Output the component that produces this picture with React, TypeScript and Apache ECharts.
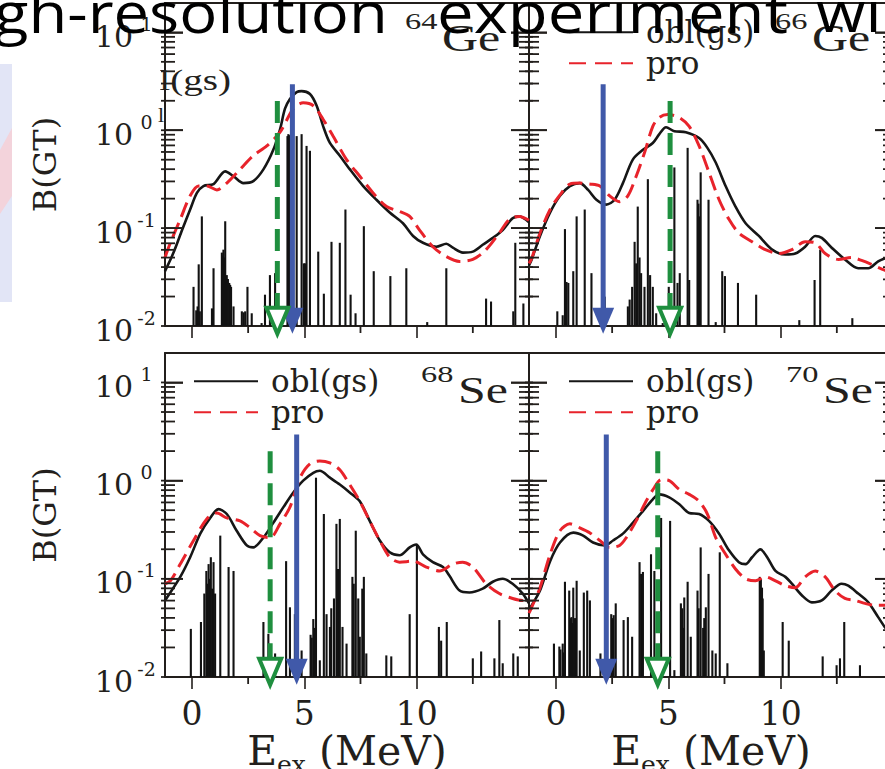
import { useEffect, useRef } from "react";
import * as echarts from "echarts";

const AXIS_FONT = "'DejaVu Serif', serif";
const LABEL_FONT = "'Liberation Serif', 'DejaVu Serif', serif";
const TITLE_FONT = "'Open Sans', 'Noto Sans', sans-serif";
const INK = "#231f1c";

// Energy axis (MeV) and log10 B(GT) axis ranges
const E_MIN = -1.2;
const E_MAX = 15;
const LOG_MIN = -2;
const LOG_MAX = 1.3;
const DECADES = [-2, -1, 0, 1];
const E_MAJOR = [0, 5, 10];
const E_MINOR = [2.5, 7.5, 12.5];
const ARROW_TIP = -2.08;

// ---- 64Ge : [E_ex (MeV), log10 B(GT)] ----
const ge64Sticks = [
  [0.07, -1.6], [0.19, -1.84], [0.25, -1.8], [0.3, -1.37], [0.35, -1.85], [0.44, -0.88],
  [0.89, -1.82], [0.96, -1.41],
  [1.33, -1.25], [1.36, -1.28], [1.4, -1.22], [1.44, -1.3], [1.48, -0.93], [1.55, -1.48], [1.6, -1.52],
  [1.66, -1.56], [1.7, -1.58], [1.74, -1.6], [1.85, -1.8],
  [2.22, -1.85], [2.3, -1.86], [2.37, -1.85], [2.47, -1.6], [2.66, -1.87],
  [3.1, -1.97], [3.25, -1.68], [3.47, -1.48], [3.7, -1.46],
  [4.25, -0.06], [4.29, -0.04], [4.33, -0.05], [4.39, -0.06], [4.66, -0.06], [4.88, -0.04],
  [4.98, -1.36], [5.03, -1.36], [5.06, -1.4], [5.1, -0.16], [5.25, -0.21],
  [5.62, -1.24], [5.87, -1.67], [6.21, -1.14], [6.58, -1.15], [6.83, -0.81], [7.06, -1.68], [7.28, -1.87],
  [7.65, -0.98], [8.09, -1.44], [8.83, -1.49], [9.54, -1.41], [10.47, -1.96], [11.32, -1.41],
  [13.09, -1.72], [13.31, -1.75], [14.3, -1.85], [14.39, -1.15], [14.75, -1.77],
];
const ge64Obl = [
  [-1.2, -1.44], [-0.82, -1.25], [-0.44, -1.02], [-0.08, -0.81], [0.22, -0.64], [0.51, -0.57], [0.96, -0.55],
  [1.48, -0.42], [1.85, -0.47], [2.29, -0.54], [2.73, -0.52], [3.18, -0.4], [3.62, -0.2], [3.92, 0.01],
  [4.14, 0.22], [4.36, 0.32], [4.66, 0.39], [4.88, 0.4], [5.25, 0.37], [5.55, 0.25], [5.84, 0.04],
  [6.14, -0.13], [6.58, -0.26], [7.03, -0.4], [7.62, -0.57], [8.21, -0.71], [8.8, -0.84], [9.39, -0.95],
  [9.84, -1.08], [10.28, -1.15], [10.87, -1.19], [11.32, -1.16], [11.61, -1.2], [12.06, -1.25], [12.5, -1.24],
  [12.94, -1.17], [13.39, -1.1], [13.83, -1.02], [14.27, -0.9], [14.57, -0.88], [15.0, -0.94],
];
const ge64Pro = [
  [-1.2, -1.3], [-0.96, -1.15], [-0.52, -0.91], [-0.08, -0.67], [0.29, -0.57], [0.67, -0.57], [1.11, -0.61],
  [1.55, -0.54], [2.14, -0.4], [2.73, -0.26], [3.33, -0.16], [3.92, -0.02], [4.51, 0.22], [4.95, 0.28],
  [5.4, 0.25], [5.84, 0.11], [6.28, -0.06], [6.88, -0.3], [7.47, -0.47], [8.06, -0.64], [8.66, -0.78],
  [9.25, -0.83], [9.69, -0.88], [10.13, -1.02], [10.72, -1.19], [11.32, -1.29], [11.91, -1.34], [12.5, -1.32],
  [13.09, -1.22], [13.68, -1.05], [14.13, -0.91], [14.57, -0.88], [15.0, -0.92],
];

// ---- 66Ge ----
const ge66Sticks = [
  [0.06, -1.85], [0.3, -1.89], [0.4, -1.01], [0.47, -1.55], [0.55, -1.56], [0.77, -1.44], [0.92, -0.88],
  [1.28, -0.81], [1.58, -1.46], [2.17, -1.7],
  [3.2, -1.8], [3.28, -1.73], [3.39, -1.6], [3.5, -1.14], [3.57, -1.36], [3.64, -0.78], [3.72, -1.3],
  [3.79, -1.46], [3.94, -1.6], [4.09, -0.5], [4.19, -1.48], [4.31, -1.6], [4.46, -1.87], [4.75, -1.97],
  [5.02, -1.6], [5.27, -0.38], [5.41, -1.56], [5.51, -1.46], [5.86, -0.18], [5.93, -1.53],
  [6.3, -0.71], [6.34, -0.75], [6.37, -0.88], [6.44, -0.43], [6.79, -0.71], [7.11, -1.96], [7.4, -1.44],
  [7.52, -1.49], [8.1, -1.56], [8.91, -1.68], [10.83, -1.94], [11.51, -1.53], [11.76, -1.22], [13.19, -1.92],
];
const ge66Obl = [
  [-1.2, -1.38], [-1.08, -1.32], [-0.71, -1.08], [-0.26, -0.84], [0.18, -0.67], [0.62, -0.57], [1.06, -0.54],
  [1.43, -0.61], [1.8, -0.71], [2.24, -0.76], [2.61, -0.71], [2.98, -0.54], [3.42, -0.3], [3.87, -0.2],
  [4.31, -0.13], [4.6, -0.04], [4.9, 0.03], [5.27, -0.01], [5.78, -0.02], [6.37, -0.08], [6.74, -0.18],
  [7.11, -0.33], [7.55, -0.57], [7.99, -0.78], [8.44, -0.95], [9.03, -1.08], [9.62, -1.22], [10.21, -1.27],
  [10.65, -1.26], [11.09, -1.19], [11.54, -1.08], [11.83, -1.1], [12.27, -1.2], [12.86, -1.32], [13.45, -1.41],
  [13.9, -1.41], [14.34, -1.34], [14.63, -1.31], [15.0, -1.28],
];
const ge66Pro = [
  [-1.2, -1.36], [-1.08, -1.31], [-0.71, -1.05], [-0.26, -0.81], [0.18, -0.66], [0.62, -0.55], [1.06, -0.54],
  [1.5, -0.55], [1.95, -0.57], [2.39, -0.67], [2.83, -0.73], [3.2, -0.67], [3.57, -0.47], [3.94, -0.23],
  [4.31, 0.04], [4.6, 0.13], [4.97, 0.16], [5.49, 0.13], [5.93, 0.04], [6.37, -0.16], [6.81, -0.43],
  [7.26, -0.71], [7.7, -0.91], [8.14, -1.05], [8.73, -1.14], [9.32, -1.22], [9.92, -1.26], [10.5, -1.22],
  [11.09, -1.14], [11.54, -1.15], [11.98, -1.26], [12.57, -1.32], [13.16, -1.3], [13.6, -1.33], [14.04, -1.37],
  [14.63, -1.43], [15.0, -1.46],
];

// ---- 68Se ----
const se68Sticks = [
  [-0.05, -1.51], [0.4, -1.44], [0.55, -1.15], [0.64, -0.92], [0.7, -1.05], [0.74, -0.85], [0.79, -1.0],
  [0.84, -0.78], [0.9, -1.1], [0.96, -0.83], [1.03, -1.15], [1.26, -0.56], [1.63, -0.88], [1.85, -0.92],
  [3.18, -1.44], [3.4, -1.56], [3.7, -1.76], [4.19, -0.82], [4.36, -1.29], [4.58, -1.36], [4.88, -1.73],
  [5.28, -1.57], [5.33, -1.6], [5.4, -1.41], [5.45, -1.5], [5.52, 0.03], [5.69, -1.83], [5.87, -0.34],
  [5.99, -1.36], [6.14, -1.49], [6.2, -1.3], [6.32, -1.2], [6.43, -0.44], [6.5, -0.9], [6.58, -0.39],
  [6.7, -1.49], [6.88, -1.66], [7.14, -0.98], [7.2, -1.05], [7.29, -0.51], [7.4, -1.2], [7.47, -1.59],
  [7.58, -1.1], [7.65, -0.98], [7.76, -1.76], [8.65, -1.78], [8.87, -1.79], [9.69, -1.36], [10.01, -0.65],
  [10.99, -1.49], [11.09, -1.63], [11.34, -1.44], [12.5, -1.81], [12.87, -1.74], [13.46, -1.81],
  [13.68, -1.42], [13.83, -1.86], [14.3, -1.76], [14.5, -1.79],
];
const se68Obl = [
  [-1.2, -1.22], [-1.11, -1.19], [-0.52, -0.98], [-0.08, -0.78], [0.37, -0.54], [0.81, -0.38], [1.18, -0.29],
  [1.55, -0.34], [1.99, -0.51], [2.44, -0.66], [2.73, -0.68], [3.18, -0.58], [3.62, -0.43], [4.07, -0.27],
  [4.51, -0.12], [4.95, 0.0], [5.4, 0.08], [5.69, 0.1], [6.14, 0.03], [6.58, -0.04], [7.02, -0.12],
  [7.47, -0.21], [7.91, -0.41], [8.36, -0.61], [8.8, -0.73], [9.24, -0.76], [9.69, -0.68], [9.98, -0.65],
  [10.28, -0.75], [10.72, -0.83], [11.17, -0.88], [11.46, -0.97], [11.91, -1.12], [12.35, -1.14],
  [12.94, -1.1], [13.39, -1.03], [13.83, -1.0], [14.27, -1.05], [14.72, -1.15], [15.0, -1.25],
];
const se68Pro = [
  [-1.2, -1.05], [-0.96, -1.02], [-0.52, -0.85], [0.07, -0.61], [0.66, -0.39], [1.11, -0.33], [1.55, -0.38],
  [2.14, -0.41], [2.59, -0.48], [3.03, -0.56], [3.48, -0.58], [3.92, -0.44], [4.36, -0.27], [4.81, 0.03],
  [5.25, 0.17], [5.69, 0.2], [6.14, 0.18], [6.58, 0.11], [7.02, -0.04], [7.47, -0.21], [7.91, -0.41],
  [8.36, -0.61], [8.8, -0.78], [9.24, -0.83], [9.84, -0.82], [10.43, -0.88], [11.02, -0.92], [11.61, -0.85],
  [12.05, -0.83], [12.5, -0.88], [13.09, -1.05], [13.68, -1.15], [14.27, -1.2], [14.72, -1.22], [15.0, -1.17],
];

// ---- 70Se ----
const se70Sticks = [
  [-0.09, -1.66], [0.15, -1.69], [0.2, -1.72], [0.3, -1.66], [0.35, -1.75], [0.4, -1.03], [0.59, -1.12],
  [0.65, -1.4], [0.69, -1.39], [0.72, -1.45], [0.77, -1.09], [0.85, -1.4], [0.92, -1.02], [1.06, -1.73],
  [1.24, -1.14], [1.39, -1.12], [1.51, -1.22], [1.98, -1.76],
  [2.46, -1.36], [2.52, -1.4], [2.57, -1.37], [2.66, -1.25], [3.01, -1.42], [3.2, -1.39], [3.39, -1.59],
  [3.72, -0.83], [3.79, -0.95], [3.87, -0.93], [4.23, -0.75], [4.38, -0.92], [4.68, -0.38], [5.08, -0.41],
  [5.27, -1.93], [5.56, -1.25], [5.62, -1.3], [5.67, -1.5], [5.71, -1.19], [5.86, -1.03], [6.0, -1.59],
  [6.3, -1.12], [6.35, -1.3], [6.44, -0.68], [6.55, -1.5], [6.6, -1.4], [6.67, -1.29], [6.79, -0.95],
  [6.96, -1.73], [7.11, -1.76], [7.29, -0.73], [7.63, -1.86], [9.07, -0.98], [9.12, -1.0], [9.17, -1.09],
  [9.2, -1.2], [9.25, -1.73], [10.09, -1.44], [10.36, -1.63], [11.87, -1.79], [12.49, -1.88], [12.64, -1.81],
  [12.83, -1.44], [13.53, -1.88],
];
const se70Obl = [
  [-1.2, -1.31], [-1.08, -1.27], [-0.71, -1.12], [-0.26, -0.82], [0.18, -0.63], [0.77, -0.53], [1.21, -0.56],
  [1.65, -0.63], [2.17, -0.66], [2.54, -0.61], [2.98, -0.54], [3.42, -0.43], [3.87, -0.31], [4.31, -0.19],
  [4.6, -0.14], [5.04, -0.17], [5.49, -0.24], [5.93, -0.33], [6.37, -0.34], [6.81, -0.41], [7.26, -0.54],
  [7.7, -0.71], [8.14, -0.83], [8.44, -0.85], [8.73, -0.78], [9.1, -0.7], [9.4, -0.78], [9.77, -0.92],
  [10.21, -0.98], [10.5, -1.05], [10.95, -1.17], [11.39, -1.24], [11.83, -1.22], [12.27, -1.12],
  [12.71, -1.05], [13.01, -1.07], [13.45, -1.15], [13.9, -1.24], [14.34, -1.39], [14.63, -1.49], [15.0, -1.59],
];
const se70Pro = [
  [-1.2, -1.35], [-1.08, -1.29], [-0.71, -1.09], [-0.26, -0.75], [0.18, -0.51], [0.62, -0.44], [1.06, -0.48],
  [1.5, -0.53], [1.95, -0.61], [2.39, -0.68], [2.83, -0.66], [3.13, -0.58], [3.57, -0.41], [4.01, -0.21],
  [4.38, -0.07], [4.68, 0.01], [5.04, 0.0], [5.49, -0.09], [5.93, -0.14], [6.37, -0.21], [6.74, -0.34],
  [7.11, -0.58], [7.55, -0.75], [7.99, -0.9], [8.44, -1.0], [8.88, -1.02], [9.32, -0.98], [9.77, -1.02],
  [10.21, -1.07], [10.65, -1.09], [11.09, -0.98], [11.54, -0.92], [11.98, -0.98], [12.42, -1.12],
  [12.86, -1.2], [13.31, -1.22], [13.75, -1.25], [14.19, -1.27], [14.63, -1.27], [15.0, -1.27],
];

// Arrow markers per panel: [E_ex (MeV), log10 of arrow top]
const blueArrows = [[4.47, 0.47], [2.1, 0.47], [4.66, 0.47], [2.24, 0.47]];
const greenArrows = [[3.8, 0.3], [5.08, 0.3], [3.48, 0.3], [4.53, 0.3]];

const PANELS = [
  { sticks: ge64Sticks, obl: ge64Obl, pro: ge64Pro, left: 165, top: 3, height: 323, row: 0, col: 0 },
  { sticks: ge66Sticks, obl: ge66Obl, pro: ge66Pro, left: 529, top: 3, height: 323, row: 0, col: 1 },
  { sticks: se68Sticks, obl: se68Obl, pro: se68Pro, left: 165, top: 353, height: 324, row: 1, col: 0 },
  { sticks: se70Sticks, obl: se70Obl, pro: se70Pro, left: 529, top: 353, height: 324, row: 1, col: 1 },
];

// log-axis tick values: decades and 2..9 x 10^n
const logTickValues: number[] = [];
DECADES.forEach((d) => {
  logTickValues.push(d);
  for (let k = 2; k <= 9; k++) {
    const v = d + Math.log10(k);
    if (v < LOG_MAX) logTickValues.push(v);
  }
});
// rows anchored inside the plot ([E, log10 value]); the marks go to the frames
const yTickRows = logTickValues.map((v) => [5, v]);
const xTickRows = E_MINOR.map((v) => [v, 0]);

const stickItem = (_params: any, api: any) => {
  const e = api.value(0);
  const top = api.coord([e, api.value(1)]);
  const base = api.coord([e, LOG_MIN]);
  return {
    type: "line",
    shape: { x1: top[0], y1: top[1], x2: base[0], y2: base[1] },
    style: { stroke: "#121212", lineWidth: 2.1 },
  };
};

// tick marks on both vertical frame lines, pointing into the plot
const yTickItem = (_params: any, api: any) => {
  const v = api.value(1);
  const isDecade = Math.abs(v - Math.round(v)) < 1e-6;
  const len = isDecade ? 18 : 10;
  const l = api.coord([E_MIN, v]);
  const r = api.coord([E_MAX, v]);
  return {
    type: "group",
    children: [
      { type: "line", shape: { x1: l[0] - 4, y1: l[1], x2: l[0] + len, y2: l[1] }, style: { stroke: INK, lineWidth: 1.8 } },
      { type: "line", shape: { x1: r[0] - len, y1: r[1], x2: r[0] + 4, y2: r[1] }, style: { stroke: INK, lineWidth: 1.8 } },
    ],
  };
};

// short ticks below the energy axis at the half-steps
const xTickItem = (_params: any, api: any) => {
  const p = api.coord([api.value(0), LOG_MIN]);
  return {
    type: "line",
    shape: { x1: p[0], y1: p[1], x2: p[0], y2: p[1] + 7 },
    style: { stroke: INK, lineWidth: 1.8 },
  };
};

const arrowItem = (color: string, dashed: boolean) => (_params: any, api: any) => {
  const e = api.value(0);
  const top = api.coord([e, api.value(1)]);
  const tip = api.coord([e, ARROW_TIP]);
  const headH = 26;
  const headW = 11;
  const x = top[0];
  return {
    type: "group",
    children: [
      {
        type: "line",
        shape: { x1: x, y1: top[1], x2: x, y2: tip[1] - headH + 2 },
        style: { stroke: color, lineWidth: 5, lineDash: dashed ? [22, 10] : null },
      },
      {
        type: "polygon",
        shape: { points: [[x - headW, tip[1] - headH], [x + headW, tip[1] - headH], [x, tip[1]]] },
        style: dashed ? { fill: "#ffffff", stroke: color, lineWidth: 4 } : { fill: color },
      },
    ],
  };
};

function buildOption() {
  const grid: any[] = [];
  const xAxis: any[] = [];
  const yAxis: any[] = [];
  const series: any[] = [];
  const tickStyle = { color: INK, width: 1.6 };
  const frameLine = { show: true, onZero: false, lineStyle: { color: INK, width: 2 } };

  PANELS.forEach((p, i) => {
    const isBottom = p.row === 1;
    const isLeft = p.col === 0;
    grid.push({ left: p.left, top: p.top, width: 364, height: p.height, containLabel: false, outerBoundsMode: "none" });

    xAxis.push({
      type: "value", gridIndex: i, min: E_MIN, max: E_MAX, position: "bottom",
      axisLine: frameLine,
      axisTick: { show: true, inside: false, length: 12, customValues: E_MAJOR, lineStyle: tickStyle },
      axisLabel: { show: isBottom, customValues: E_MAJOR, margin: 20, fontFamily: AXIS_FONT, fontSize: 33, color: INK },
      splitLine: { show: false },
      name: isBottom ? "{m|E}{sub|ex}{m| (MeV)}" : "",
      nameLocation: "middle",
      nameGap: 40,
      nameTextStyle: {
        rich: {
          m: { fontFamily: AXIS_FONT, fontSize: 41, lineHeight: 42, verticalAlign: "top", color: INK },
          sub: { fontFamily: AXIS_FONT, fontSize: 25, lineHeight: 25, padding: [21, 0, 0, 0], verticalAlign: "top", color: INK },
        },
      },
    });
    xAxis.push({
      type: "value", gridIndex: i, min: E_MIN, max: E_MAX, position: "top",
      axisLine: frameLine, axisTick: { show: false }, axisLabel: { show: false }, splitLine: { show: false },
    });

    yAxis.push({
      type: "value", gridIndex: i, min: LOG_MIN, max: LOG_MAX, position: "left",
      axisLine: frameLine,
      axisTick: { show: true, inside: true, length: 18, customValues: DECADES, lineStyle: tickStyle },
      axisLabel: {
        show: isLeft, customValues: DECADES, margin: 5, padding: [8, 0, 0, 0],
        formatter: (v: number) => `{b|10}{s|${Math.round(v)}}`,
        rich: {
          b: { fontFamily: AXIS_FONT, fontSize: 30, lineHeight: 30, verticalAlign: "bottom", color: INK },
          s: { fontFamily: AXIS_FONT, fontSize: 19, lineHeight: 20, width: 27, align: "left", padding: [0, 0, 18, 0], verticalAlign: "bottom", color: INK },
        },
      },
      splitLine: { show: false },
      name: isLeft ? "B(GT)" : "",
      nameLocation: "middle", nameRotate: 90, nameGap: 104,
      nameTextStyle: { fontFamily: AXIS_FONT, fontSize: 32, color: INK },
    });
    yAxis.push({
      type: "value", gridIndex: i, min: LOG_MIN, max: LOG_MAX, position: "right",
      axisLine: frameLine,
      axisTick: { show: true, inside: true, length: 18, customValues: DECADES, lineStyle: tickStyle },
      axisLabel: { show: false }, splitLine: { show: false },
    });

    const xi = 2 * i;
    const yi = 2 * i;
    series.push({
      type: "custom", name: "frame ticks", xAxisIndex: xi, yAxisIndex: yi, clip: false, z: 6,
      encode: { x: 0, y: 1 }, renderItem: yTickItem, data: yTickRows,
    });
    series.push({
      type: "custom", name: "energy ticks", xAxisIndex: xi, yAxisIndex: yi, clip: false, z: 6,
      encode: { x: 0, y: 1 }, renderItem: xTickItem, data: xTickRows,
    });
    series.push({
      type: "custom", name: "B(GT) states", xAxisIndex: xi, yAxisIndex: yi, clip: true, z: 2,
      encode: { x: 0, y: 1 }, renderItem: stickItem, data: p.sticks,
    });
    series.push({
      type: "line", name: "obl(gs)", xAxisIndex: xi, yAxisIndex: yi, data: p.obl, smooth: 0.3,
      symbol: "none", z: 3, clip: true,
      lineStyle: { color: "#161616", width: 2.6 }, itemStyle: { color: "#161616" },
    });
    series.push({
      type: "line", name: "pro", xAxisIndex: xi, yAxisIndex: yi, data: p.pro, smooth: 0.3,
      symbol: "none", z: 3, clip: true,
      lineStyle: { color: "#e8232b", width: 3, type: [15, 7] }, itemStyle: { color: "#e8232b" },
    });
    series.push({
      type: "custom", name: "arrow-blue", xAxisIndex: xi, yAxisIndex: yi, clip: false, z: 5,
      encode: { x: 0, y: 1 }, renderItem: arrowItem("#4059a9", false), data: [blueArrows[i]],
    });
    series.push({
      type: "custom", name: "arrow-green", xAxisIndex: xi, yAxisIndex: yi, clip: false, z: 5,
      encode: { x: 0, y: 1 }, renderItem: arrowItem("#1f8f3f", true), data: [greenArrows[i]],
    });
  });

  const legendBase = {
    data: ["obl(gs)", { name: "pro", lineStyle: { type: [17, 9] } }],
    orient: "vertical", itemWidth: 64, itemHeight: 30, itemGap: 0, padding: 0,
    selectedMode: false,
    itemStyle: { opacity: 0 },
    textStyle: { fontFamily: AXIS_FONT, fontSize: 31, lineHeight: 30, color: INK, padding: [0, 0, 0, 8] },
  };
  const legend = [
    { ...legendBase, left: 568, top: 16.7 },
    { ...legendBase, left: 193, top: 365.7 },
    { ...legendBase, left: 568, top: 365.7 },
  ];

  const nuclide = (num: string, sym: string, x: number, y: number) => [
    { type: "text", x, y: y - 17, scaleX: 1.35, z: 10,
      style: { text: num, fontFamily: LABEL_FONT, fontSize: 24, fill: INK, verticalAlign: "middle", align: "left" } },
    { type: "text", x: x + 37, y, scaleX: 1.35, z: 10,
      style: { text: sym, fontFamily: LABEL_FONT, fontSize: 37, fill: INK, verticalAlign: "middle", align: "left" } },
  ];

  const titleWord = (text: string, x: number, sx: number) => ({
    type: "text", x, y: 11, scaleX: sx, scaleY: 0.88, z: 100,
    style: { text, fontFamily: TITLE_FONT, fontSize: 64, fill: "#000", verticalAlign: "middle", align: "left" },
  });

  const graphic: any[] = [
    { type: "rect", shape: { x: 0, y: 64, width: 12, height: 238 }, style: { fill: "#e2e5f6" }, z: -10 },
    { type: "polygon", shape: { points: [[0, 150], [12, 128], [12, 196], [0, 214]] }, style: { fill: "#f3d3db" }, z: -9 },
    { type: "text", x: 231, y: 80, scaleX: 1.35, z: 10,
      style: { text: "obl(gs)", fontFamily: LABEL_FONT, fontSize: 29, fill: INK, align: "right", verticalAlign: "middle" } },
    { type: "rect", shape: { x: 14, y: 62, width: 146, height: 40 }, style: { fill: "#ffffff" }, z: 20 },
    { type: "text", x: 158, y: 114, z: 10,
      style: { text: "l", fontFamily: LABEL_FONT, fontSize: 22, fill: INK, verticalAlign: "middle" } },
    ...nuclide("64", "Ge", 405, 38.5),
    ...nuclide("66", "Ge", 775, 38.5),
    ...nuclide("68", "Se", 421, 391),
    ...nuclide("70", "Se", 786, 391),
    titleWord("gh-resolution", -6, 0.99),
    titleWord("experiment", 437, 1.02),
    titleWord("wi", 816, 1.0),
  ];

  return { animation: false, backgroundColor: "#ffffff", grid, xAxis, yAxis, series, legend, graphic };
}

export default function App() {
  const ref = useRef<HTMLDivElement>(null);
  useEffect(() => {
    if (!ref.current) return;
    const chart = echarts.init(ref.current, undefined, { renderer: "svg" });
    chart.setOption(buildOption() as any);
    return () => chart.dispose();
  }, []);
  return <div ref={ref} style={{ position: "fixed", left: 0, top: 0, width: 885, height: 769 }} />;
}
